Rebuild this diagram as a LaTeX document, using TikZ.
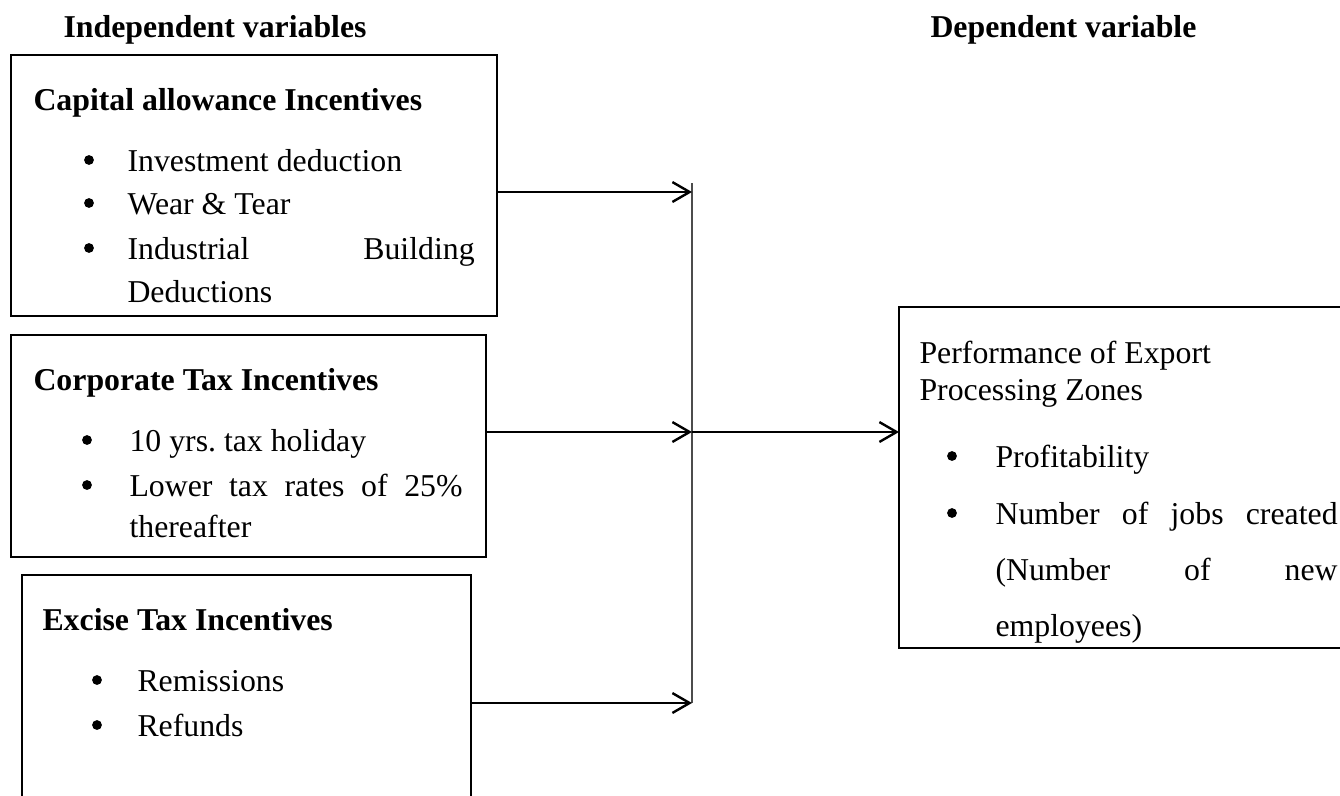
\documentclass[tikz,border=0pt,12pt]{standalone}
\usepackage{fontspec}
\setmainfont{Liberation Serif}
\usetikzlibrary{arrows.meta}
\frenchspacing

\begin{document}
\begin{tikzpicture}[
        x=0.3774pt, y=-0.3774pt, % one unit = one pixel of the page grid
        box/.style={rectangle, draw=black, line width=0.85pt, anchor=north west, inner sep=0pt, outer sep=0pt},
        head/.style={anchor=base west, inner sep=0pt, font=\bfseries},
        txt/.style={anchor=base west, inner sep=0pt},
        bul/.style={circle, fill=black, inner sep=0pt, minimum size=3.7pt, yshift=4.15pt},
        arr/.style={line width=0.9pt, -{Straight Barb[length=6.5pt, width=7.5pt]}},
        rail/.style={line width=0.75pt, draw=black!70}
    ]
    \useasboundingbox (0,0) rectangle (1340,795);

    % Column headers
    \node[head] (indep) at (63,37) {Independent variables};
    \node[head] (dep) at (930,37) {Dependent variable};

    % Box 1: capital allowance
    \node[box, minimum width=183.4pt, minimum height=98.5pt] (cap) at (11,55) {};
    \node[head] (caph) at (33,110) {Capital allowance Incentives};
    \node[bul] (b11) at (89,171) {};
    \node[txt] (t11) at (127,171) {Investment deduction};
    \node[bul] (b12) at (89,214) {};
    \node[txt] (t12) at (127,214) {Wear \& Tear};
    \node[bul] (b13) at (89,259) {};
    \node[txt] (t13) at (127,259) {\makebox[131pt][s]{Industrial Building}};
    \node[txt] (t14) at (127,302) {Deductions};

    % Box 2: corporate tax
    \node[box, minimum width=179.3pt, minimum height=83.8pt] (corp) at (11,335) {};
    \node[head] (corph) at (33,390) {Corporate Tax Incentives};
    \node[bul] (b21) at (87,451) {};
    \node[txt] (t21) at (129,451) {10 yrs. tax holiday};
    \node[bul] (b22) at (87,496) {};
    \node[txt] (t22) at (129,496) {\makebox[125.7pt][s]{Lower tax rates of 25\%}};
    \node[txt] (t23) at (129,537) {thereafter};

    % Box 3: excise tax (runs off the page)
    \node[box, minimum width=169.5pt, minimum height=96.2pt] (exc) at (22,575) {};
    \node[head] (exch) at (42,630) {Excise Tax Incentives};
    \node[bul] (b31) at (97,691) {};
    \node[txt] (t31) at (137,691) {Remissions};
    \node[bul] (b32) at (97,736) {};
    \node[txt] (t32) at (137,736) {Refunds};

    % Dependent box (runs off the right side)
    \node[box, minimum width=175.9pt, minimum height=128.7pt] (perf) at (899,307) {};
    \node[txt] (p1) at (919,363) {Performance of Export};
    \node[txt] (p2) at (919,400) {Processing Zones};
    \node[bul] (b41) at (952,467) {};
    \node[txt] (p3) at (995,467) {Profitability};
    \node[bul] (b42) at (952,524) {};
    \node[txt] (p4) at (995,524) {\makebox[129.1pt][s]{Number of jobs created}};
    \node[txt] (p5) at (995,580) {\makebox[129.1pt][s]{(Number of new}};
    \node[txt] (p6) at (995,636) {employees)};

    % Collector line and arrows
    \coordinate (top) at (692,183);
    \coordinate (j1) at (692,192);
    \coordinate (j2) at (692,432);
    \coordinate (j3) at (692,703);
    \draw[rail] (top) -- (j3);
    \draw[arr] (cap.east |- j1) -- (j1);
    \draw[arr] (corp.east |- j2) -- (j2);
    \draw[arr] (exc.east |- j3) -- (j3);
    \draw[arr] (j2) -- (perf.west |- j2);

\end{tikzpicture}
\end{document}
